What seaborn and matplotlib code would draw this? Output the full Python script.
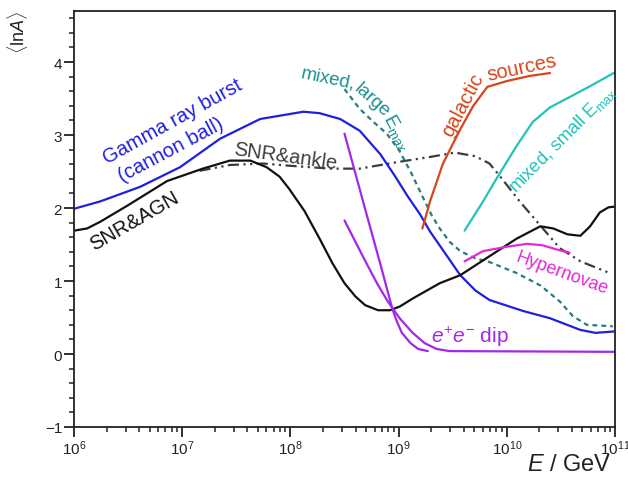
import numpy as np
import pandas as pd
import matplotlib
matplotlib.use("Agg")
import matplotlib.pyplot as plt
import matplotlib.ticker as mticker
import seaborn as sns

# Mean logarithmic mass <lnA> of cosmic rays for several source models.
# Energies are given as log10(E / GeV).
grb_logE = [6.00, 6.24, 6.61, 6.98, 7.35, 7.72, 8.12, 8.27, 8.46, 8.64, 8.83, 8.97, 9.08, 9.20, 9.29, 9.43, 9.57, 9.71, 9.84, 10.15, 10.40, 10.68, 10.82, 11.00]
grb_lnA = [1.99, 2.09, 2.29, 2.56, 2.95, 3.22, 3.32, 3.30, 3.22, 3.06, 2.74, 2.43, 2.17, 1.91, 1.68, 1.38, 1.08, 0.87, 0.74, 0.59, 0.49, 0.33, 0.29, 0.31]

agn_logE = [6.00, 6.12, 6.24, 6.49, 6.86, 7.19, 7.44, 7.63, 7.78, 7.90, 7.99, 8.13, 8.27, 8.39, 8.50, 8.60, 8.69, 8.81, 8.92, 9.01, 9.13, 9.38, 9.57, 9.84, 10.09, 10.31, 10.43, 10.56, 10.68, 10.77, 10.86, 10.94, 11.00]
agn_lnA = [1.69, 1.72, 1.81, 2.03, 2.37, 2.54, 2.65, 2.65, 2.56, 2.43, 2.26, 1.96, 1.58, 1.24, 0.97, 0.79, 0.67, 0.60, 0.60, 0.65, 0.76, 0.97, 1.08, 1.34, 1.58, 1.75, 1.72, 1.64, 1.62, 1.75, 1.94, 2.01, 2.02]

ankle_logE = [7.16, 7.44, 7.75, 7.99, 8.37, 8.64, 8.99, 9.29, 9.52, 9.71, 9.84, 9.94, 10.12, 10.31, 10.49, 10.68, 10.95]
ankle_lnA = [2.51, 2.59, 2.61, 2.58, 2.54, 2.54, 2.63, 2.70, 2.76, 2.71, 2.61, 2.43, 2.09, 1.76, 1.45, 1.27, 1.11]

large_logE = [8.50, 8.64, 8.76, 8.89, 9.01, 9.12, 9.23, 9.31, 9.38, 9.47, 9.57, 9.71, 9.84, 10.09, 10.31, 10.49, 10.61, 10.74, 10.98]
large_lnA = [3.63, 3.36, 3.19, 3.02, 2.78, 2.47, 2.13, 1.89, 1.72, 1.54, 1.41, 1.31, 1.26, 1.11, 0.94, 0.72, 0.52, 0.40, 0.38]

gal_logE = [9.22, 9.29, 9.41, 9.57, 9.69, 9.82, 10.00, 10.21, 10.40]
gal_lnA = [1.72, 2.09, 2.61, 3.08, 3.40, 3.66, 3.74, 3.81, 3.85]

small_logE = [9.61, 9.78, 9.92, 10.09, 10.24, 10.40, 10.58, 10.77, 11.00]
small_lnA = [1.69, 2.09, 2.44, 2.85, 3.18, 3.38, 3.52, 3.67, 3.86]

hyper_logE = [9.61, 9.78, 10.00, 10.19, 10.33, 10.49, 10.58]
hyper_lnA = [1.27, 1.41, 1.47, 1.51, 1.49, 1.42, 1.39]

dip1_logE = [8.50, 8.69, 8.83, 8.94, 8.98, 9.03, 9.11, 9.18, 9.27]
dip1_lnA = [3.02, 1.99, 1.24, 0.63, 0.46, 0.29, 0.15, 0.07, 0.04]

dip2_logE = [8.50, 8.60, 8.69, 8.80, 8.90, 9.01, 9.13, 9.24, 9.35, 9.47, 11.00]
dip2_lnA = [1.83, 1.54, 1.28, 0.97, 0.72, 0.49, 0.29, 0.15, 0.07, 0.04, 0.03]

sns.set_theme(style="ticks")
plt.rcParams["font.family"] = ["Liberation Sans", "DejaVu Sans"]
plt.rcParams["mathtext.fontset"] = "custom"
plt.rcParams["mathtext.rm"] = "Liberation Sans"
plt.rcParams["mathtext.it"] = "Liberation Sans:italic"
plt.rcParams["mathtext.bf"] = "Liberation Sans:bold"

fig = plt.figure(figsize=(6.28, 4.85), dpi=100)
ax = fig.add_axes([74 / 628, 1 - 428 / 485, (615 - 74) / 628, (428 - 12) / 485])

LW = 1.6
C_BLUE = "#1f1fe0"
C_BLACK = "#111111"
C_ANKLE = "#3c3c3c"
C_LARGE = "#2a7c7c"
C_LARGE_TXT = "#1c9090"
C_GAL = "#d6461c"
C_SMALL = "#22c3b8"
C_HYPER = "#e22ad8"
C_DIP = "#a426ea"


def curve(logE, lnA, color, **kw):
    df = pd.DataFrame({"E": np.power(10.0, logE), "lnA": lnA})
    sns.lineplot(data=df, x="E", y="lnA", ax=ax, color=color, lw=LW,
                 sort=False, estimator=None, legend=False, **kw)
    line = ax.lines[-1]
    line.set_solid_joinstyle("round")
    line.set_dash_joinstyle("round")
    return line


curve(ankle_logE, ankle_lnA, C_ANKLE).set_dashes([5, 2, 1, 2, 1, 2])
curve(large_logE, large_lnA, C_LARGE).set_dashes([2.2, 1.8])
curve(grb_logE, grb_lnA, C_BLUE)
curve(agn_logE, agn_lnA, C_BLACK)
curve(gal_logE, gal_lnA, C_GAL)
curve(small_logE, small_lnA, C_SMALL)
curve(hyper_logE, hyper_lnA, C_HYPER)
curve(dip1_logE, dip1_lnA, C_DIP)
curve(dip2_logE, dip2_lnA, C_DIP)

ax.set_xscale("log")
ax.set_xlim(1e6, 1e11)
ax.set_ylim(-1.0, 4.70)
ax.set_xlabel("")
ax.set_ylabel("")

ax.yaxis.set_major_locator(mticker.MultipleLocator(1))
ax.yaxis.set_minor_locator(mticker.MultipleLocator(0.2))
ax.xaxis.set_major_locator(mticker.LogLocator(base=10, numticks=10))
ax.xaxis.set_minor_locator(mticker.LogLocator(base=10, subs=np.arange(2, 10), numticks=100))
ax.xaxis.set_minor_formatter(mticker.NullFormatter())

ax.tick_params(axis="both", which="major", direction="out", length=7, width=1.3,
               labelsize=11, colors="#222222", pad=1.5)
ax.tick_params(axis="both", which="minor", direction="out", length=3.5, width=1.1,
               colors="#222222")
ax.tick_params(top=False, right=False, which="both")
for s in ax.spines.values():
    s.set_linewidth(1.3)
    s.set_color("#222222")

fs = 14.5

def label(logE, y, s, color, rot, size=fs):
    ax.text(10 ** logE, y, s, color=color, rotation=rot, fontsize=size,
            ha="center", va="center", rotation_mode="anchor")


label(6.91, 3.19, "Gamma ray burst", C_BLUE, 29)
label(6.90, 2.80, "(cannon ball)", C_BLUE, 28)
label(6.56, 1.83, "SNR&AGN", C_BLACK, 30)
label(7.95, 2.71, "SNR&ankle", C_ANKLE, -8)
label(8.35, 3.79, "mixed,", C_LARGE_TXT, -12, 13.5)
label(8.75, 3.49, "large", C_LARGE_TXT, -42, 13.5)
label(8.99, 3.04, r"E$_{\mathregular{max}}$", C_LARGE_TXT, -62, 13.5)
label(9.59, 3.42, "galactic", C_GAL, 62)
label(10.14, 3.93, "sources", C_GAL, 12)
label(10.51, 2.95, r"mixed, small E$_{\mathregular{max}}$", C_SMALL, 45, 13)
label(10.51, 1.12, "Hypernovae", C_HYPER, -20, 13)
label(9.66, 0.25, r"$e^{+}e^{-}$ dip", C_DIP, 0, 15)

fig.text(612 / 628, 1 - 465 / 485, r"$E$ / GeV", fontsize=17, ha="right",
         va="center", color="#222222")
fig.text(18 / 628, 1 - 32 / 485, r"$\langle$ln$A\rangle$", fontsize=13,
         rotation=90, ha="center", va="center", color="#222222")

fig.savefig("out.png", dpi=100)
